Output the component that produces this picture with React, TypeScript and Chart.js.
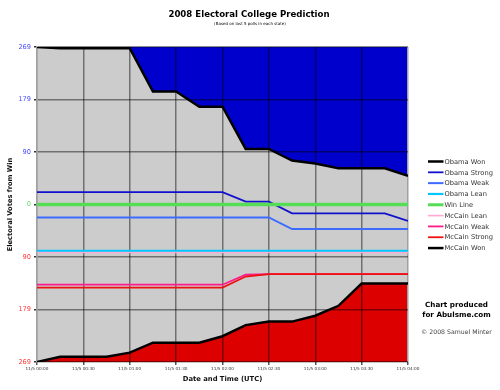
import React, { useEffect, useRef } from "react";
import { Chart, registerables } from "chart.js";

// ---- data ----
const minutes = [0, 15, 30, 45, 60, 75, 90, 105, 120, 135, 150, 165, 180, 195, 210, 225, 240];
const xTickLabels = [
  "11/5 00:00", "11/5 00:30", "11/5 01:00", "11/5 01:30", "11/5 02:00",
  "11/5 02:30", "11/5 03:00", "11/5 03:30", "11/5 04:00",
];
const yTickValues = [269, 179, 90, 0, -90, -179, -269];

const obamaWon = [269, 267, 267, 267, 267, 193, 193, 167, 167, 95, 95, 75, 70, 62, 62, 62, 49];
const obamaStrong = [21, 21, 21, 21, 21, 21, 21, 21, 21, 5, 5, -15, -15, -15, -15, -15, -28];
const obamaWeak = [-22, -22, -22, -22, -22, -22, -22, -22, -22, -22, -22, -42, -42, -42, -42, -42, -42];
const obamaLean = [-79, -79, -79, -79, -79, -79, -79, -79, -79, -79, -79, -79, -79, -79, -79, -79, -79];
const winLine = [0, 0, 0, 0, 0, 0, 0, 0, 0, 0, 0, 0, 0, 0, 0, 0, 0];
const mccainLean = [-82, -82, -82, -82, -82, -82, -82, -82, -82, -82, -82, -82, -82, -82, -82, -82, -82];
const mccainWeak = [-137, -137, -137, -137, -137, -137, -137, -137, -137, -120, -119, -119, -119, -119, -119, -119, -119];
const mccainStrong = [-142, -142, -142, -142, -142, -142, -142, -142, -142, -123, -119, -119, -119, -119, -119, -119, -119];
const mccainWon = [-269, -260, -260, -260, -253, -236, -236, -236, -225, -206, -200, -200, -190, -173, -135, -135, -135];

const FONT = "'DejaVu Sans', sans-serif";

const plotBackground = {
  id: "plotBackground",
  beforeDraw(chart: any) {
    const { ctx, chartArea } = chart;
    if (!chartArea) return;
    ctx.save();
    ctx.fillStyle = "#cccccc";
    ctx.fillRect(chartArea.left, chartArea.top, chartArea.right - chartArea.left, chartArea.bottom - chartArea.top);
    ctx.restore();
  },
};
Chart.register(plotBackground);
Chart.register(...registerables);

const pts = (ys: number[]) => ys.map((y, i) => ({ x: minutes[i], y }));

const decorations = {
  id: "decorations",
  afterDraw(chart: any) {
    const { ctx } = chart;
    ctx.save();
    ctx.textAlign = "center";
    ctx.textBaseline = "middle";
    ctx.fillStyle = "#000";
    ctx.font = `bold 8.6px ${FONT}`;
    ctx.fillText("2008 Electoral College Prediction", 249, 15);
    ctx.font = `4px ${FONT}`;
    ctx.fillText("(Based on last 5 polls in each state)", 250, 23.5);

    // legend
    const ds = chart.data.datasets;
    ds.forEach((d: any, i: number) => {
      const y = 161.5 + i * 10.82;
      ctx.strokeStyle = d.borderColor;
      ctx.lineWidth = Math.min(d.borderWidth, 3);
      ctx.beginPath();
      ctx.moveTo(428, y);
      ctx.lineTo(443.5, y);
      ctx.stroke();
      ctx.fillStyle = "#333";
      ctx.textAlign = "left";
      ctx.font = `6.7px ${FONT}`;
      ctx.fillText(d.label, 444.5, y + 0.5);
    });

    ctx.textAlign = "center";
    ctx.fillStyle = "#000";
    ctx.font = `bold 7.2px ${FONT}`;
    ctx.fillText("Chart produced", 456.5, 305);
    ctx.fillText("for Abulsme.com", 456.5, 315.5);
    ctx.fillStyle = "#444";
    ctx.font = `6.2px ${FONT}`;
    ctx.fillText("\u00a9 2008 Samuel Minter", 456.5, 332.5);
    ctx.restore();
  },
};

const GRID = "rgba(0,0,0,0.45)";
const EDGE = "#a0a0a0";

export default function App() {
  const ref = useRef<HTMLCanvasElement | null>(null);
  useEffect(() => {
    if (!ref.current) return;
    const line = (label: string, data: number[], color: string, width: number, order: number, extra: any = {}) => ({
      label,
      data: pts(data),
      borderColor: color,
      backgroundColor: color,
      borderWidth: width,
      pointRadius: 0,
      tension: 0,
      fill: false,
      order,
      ...extra,
    });
    const chart = new Chart(ref.current, {
      type: "line",
      data: {
        datasets: [
          line("Obama Won", obamaWon, "#000000", 2.5, 0, { fill: "end", backgroundColor: "#0000cc" }),
          line("Obama Strong", obamaStrong, "#1010cc", 1.8, 5),
          line("Obama Weak", obamaWeak, "#3d6bff", 2, 6),
          line("Obama Lean", obamaLean, "#00c8ff", 2.2, 3),
          line("Win Line", winLine, "#55dd55", 3.5, 2),
          line("McCain Lean", mccainLean, "#ffaad4", 1.6, 4),
          line("McCain Weak", mccainWeak, "#ff1a8c", 1.8, 8),
          line("McCain Strong", mccainStrong, "#ee1111", 1.8, 7),
          line("McCain Won", mccainWon, "#000000", 2.5, 1, { fill: "start", backgroundColor: "#dd0000" }),
        ],
      },
      options: {
        responsive: false,
        animation: false,
        events: [],
        layout: { padding: { top: 47, right: 92, bottom: 0, left: 0 } },
        plugins: {
          legend: { display: false },
          title: { display: false },
          tooltip: { enabled: false },
          filler: { drawTime: "beforeDraw" },
        },
        scales: {
          x: {
            type: "linear",
            min: 0,
            max: 240,
            afterFit: (s: any) => { s.height = 28; },
            afterBuildTicks: (s: any) => {
              s.ticks = xTickLabels.map((_, i) => ({ value: i * 30 }));
            },
            ticks: {
              autoSkip: false,
              maxRotation: 0,
              padding: 1,
              color: "#333",
              font: { family: FONT, size: 4.2 },
              callback: (_v: any, i: number) => xTickLabels[i],
            },
            grid: {
              color: (c: any) => (c.tick && (c.tick.value === 0 || c.tick.value === 240) ? EDGE : GRID),
              lineWidth: 1.5,
              tickLength: 3,
              tickColor: "#555",
            },
            border: { display: false },
            title: {
              display: true,
              text: "Date and Time (UTC)",
              color: "#111",
              font: { family: FONT, size: 6.8, weight: "bold" },
              padding: { top: 0, bottom: 7 },
            },
          },
          y: {
            type: "linear",
            min: -269,
            max: 269,
            afterFit: (s: any) => { s.width = 37; },
            afterBuildTicks: (s: any) => {
              s.ticks = yTickValues.map((v) => ({ value: v }));
            },
            ticks: {
              padding: 3,
              font: { family: FONT, size: 6.6 },
              color: (c: any) => {
                const v = c.tick ? c.tick.value : 0;
                return v > 0 ? "#4a4aff" : v < 0 ? "#ff3b3b" : "#66dd66";
              },
              callback: (v: any) => String(Math.abs(Number(v))),
            },
            grid: {
              color: (c: any) => (c.tick && c.tick.value === 0 ? "rgba(0,0,0,0)" : GRID),
              lineWidth: 1.5,
              tickLength: 3,
              tickColor: "#333",
            },
            border: { display: true, color: EDGE, width: 1.5 },
            title: {
              display: true,
              text: "Electoral Votes from Win",
              color: "#111",
              font: { family: FONT, size: 6.7, weight: "bold" },
              padding: { top: 6.5, bottom: 0 },
            },
          },
        },
      },
      plugins: [decorations],
    } as any);
    return () => chart.destroy();
  }, []);
  return (
    <div style={{ position: "fixed", left: 0, top: 0, width: 500, height: 390, background: "#fff" }}>
      <canvas ref={ref} width={500} height={390} style={{ display: "block" }} />
    </div>
  );
}
